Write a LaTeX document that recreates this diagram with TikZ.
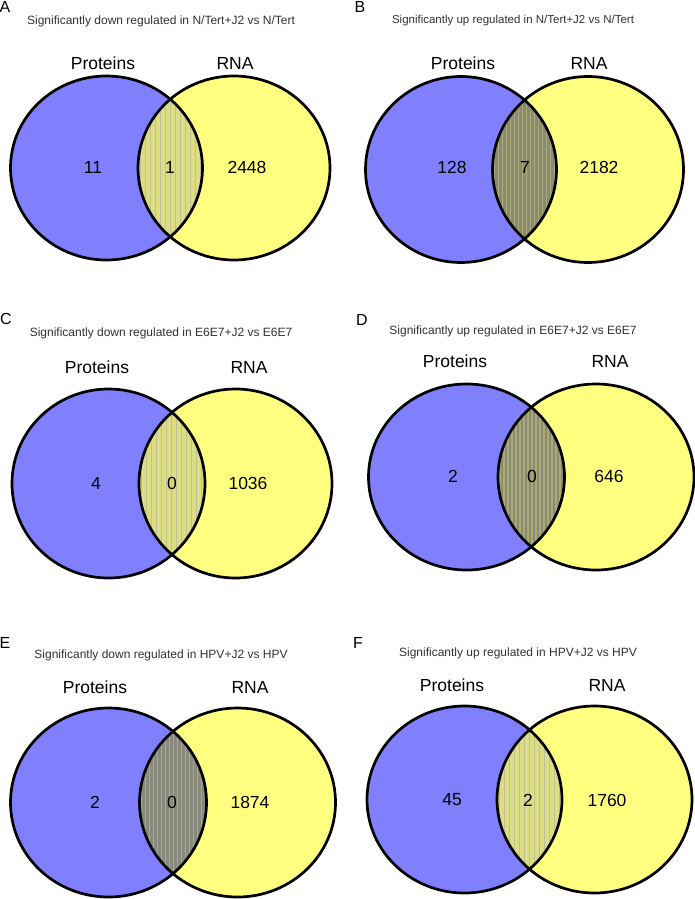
\documentclass[tikz,border=0pt]{standalone}
\usepackage{fontspec}
\setmainfont{Liberation Sans}
\definecolor{protblue}{RGB}{128,128,255}
\definecolor{rnayellow}{RGB}{255,255,128}
\definecolor{lenslight}{RGB}{221,221,132}
\definecolor{stripelight}{RGB}{192,192,148}
\definecolor{lensdark}{RGB}{138,138,124}
\definecolor{stripedark}{RGB}{172,172,110}
\definecolor{titlegrey}{RGB}{50,50,50}
\tikzset{
  outline/.style={draw=black, line width=2.7pt},
  paneltag/.style={font=\fontsize{16}{18}\selectfont, inner sep=0pt},
  paneltitle/.style={font=\fontsize{12}{14}\selectfont, text=titlegrey, inner sep=0pt},
  setlabel/.style={font=\fontsize{17.5}{19}\selectfont, inner sep=0pt},
  count/.style={font=\fontsize{17.5}{19}\selectfont, inner sep=0pt},
  light lens/.style={fill=lenslight},
  dark lens/.style={fill=lensdark},
  light stripe/.style={draw=stripelight, line width=0.9pt},
  dark stripe/.style={draw=stripedark, line width=1.6pt},
}
\def\stripesteplight{5}
\def\stripestepdark{4}
% #1 left cx, #2 right cx, #3 cy, #4 rx, #5 ry, #6 light/dark
\newcommand\myvenn[6]{%
  \fill[protblue] (#1,#3) ellipse [x radius=#4, y radius=#5];
  \fill[rnayellow] (#2,#3) ellipse [x radius=#4, y radius=#5];
  \begin{scope}
    \clip (#1,#3) ellipse [x radius=#4, y radius=#5];
    \clip (#2,#3) ellipse [x radius=#4, y radius=#5];
    \fill[#6 lens] (#2-#4,#3-#5) rectangle (#1+#4,#3+#5);
    \pgfmathsetmacro\mystep{\csname stripestep#6\endcsname}
    \foreach \k in {0,...,20} {
      \draw[#6 stripe] ({#2-#4+2+\k*\mystep},{#3-#5}) -- ++(0,{2*#5});
    }
  \end{scope}
  \draw[outline] (#1,#3) ellipse [x radius=#4, y radius=#5];
  \draw[outline] (#2,#3) ellipse [x radius=#4, y radius=#5];
}
\begin{document}
\begin{tikzpicture}[x=1pt,y=-1pt]
\useasboundingbox[fill=white] (0,0) rectangle (695,899);

% Panel A
\myvenn{106.5}{234}{168}{96}{92}{light}
\node[paneltag] (Atag) at (5,7) {A};
\node[paneltitle] (Atitle) at (161,21) {Significantly down regulated in N/Tert+J2 vs N/Tert};
\node[setlabel] (Aprot) at (103,63) {Proteins};
\node[setlabel] (Arna) at (235,63) {RNA};
\node[count] (Ap) at (93,167) {11};
\node[count] (Ab) at (170,167) {1};
\node[count] (Ar) at (247,167) {2448};

% Panel B
\myvenn{461}{588}{169.5}{95.5}{93}{dark}
\node[paneltag] (Btag) at (360,7) {B};
\node[paneltitle, font=\fontsize{11.5}{13}\selectfont] (Btitle) at (513,21) {Significantly up regulated in N/Tert+J2 vs N/Tert};
\node[setlabel] (Bprot) at (463,63) {Proteins};
\node[setlabel] (Brna) at (589,63) {RNA};
\node[count] (Bp) at (452,167) {128};
\node[count] (Bb) at (525,167) {7};
\node[count] (Br) at (599,167) {2182};

% Panel C
\myvenn{108.5}{235.5}{483.5}{96.5}{94.5}{light}
\node[paneltag] (Ctag) at (6,319) {C};
\node[paneltitle] (Ctitle) at (161,333) {Significantly down regulated in E6E7+J2 vs E6E7};
\node[setlabel] (Cprot) at (97,367) {Proteins};
\node[setlabel] (Crna) at (249,367) {RNA};
\node[count] (Cp) at (96,483) {4};
\node[count] (Cb) at (172,483) {0};
\node[count] (Cr) at (248,483) {1036};

% Panel D
\myvenn{466.5}{596}{477}{98}{93}{dark}
\node[paneltag] (Dtag) at (362,320) {D};
\node[paneltitle] (Dtitle) at (513,331) {Significantly up regulated in E6E7+J2 vs E6E7};
\node[setlabel] (Dprot) at (455,361) {Proteins};
\node[setlabel] (Drna) at (610,361) {RNA};
\node[count] (Dp) at (453,476) {2};
\node[count] (Db) at (532,476) {0};
\node[count] (Dr) at (609,476) {646};

% Panel E
\myvenn{108.5}{237.5}{802.5}{98}{94.5}{dark}
\node[paneltag] (Etag) at (5,643) {E};
\node[paneltitle] (Etitle) at (161,655) {Significantly down regulated in HPV+J2 vs HPV};
\node[setlabel] (Eprot) at (95,687) {Proteins};
\node[setlabel] (Erna) at (250,687) {RNA};
\node[count] (Ep) at (95,802) {2};
\node[count] (Eb) at (172,802) {0};
\node[count] (Er) at (250,802) {1874};

% Panel F
\myvenn{464.5}{594.5}{799.5}{97.5}{93.5}{light}
\node[paneltag] (Ftag) at (358,643) {F};
\node[paneltitle] (Ftitle) at (518,653) {Significantly up regulated in HPV+J2 vs HPV};
\node[setlabel] (Fprot) at (452,685) {Proteins};
\node[setlabel] (Frna) at (607,685) {RNA};
\node[count] (Fp) at (452,800) {45};
\node[count] (Fb) at (528,800) {2};
\node[count] (Fr) at (607,800) {1760};
\end{tikzpicture}
\end{document}
